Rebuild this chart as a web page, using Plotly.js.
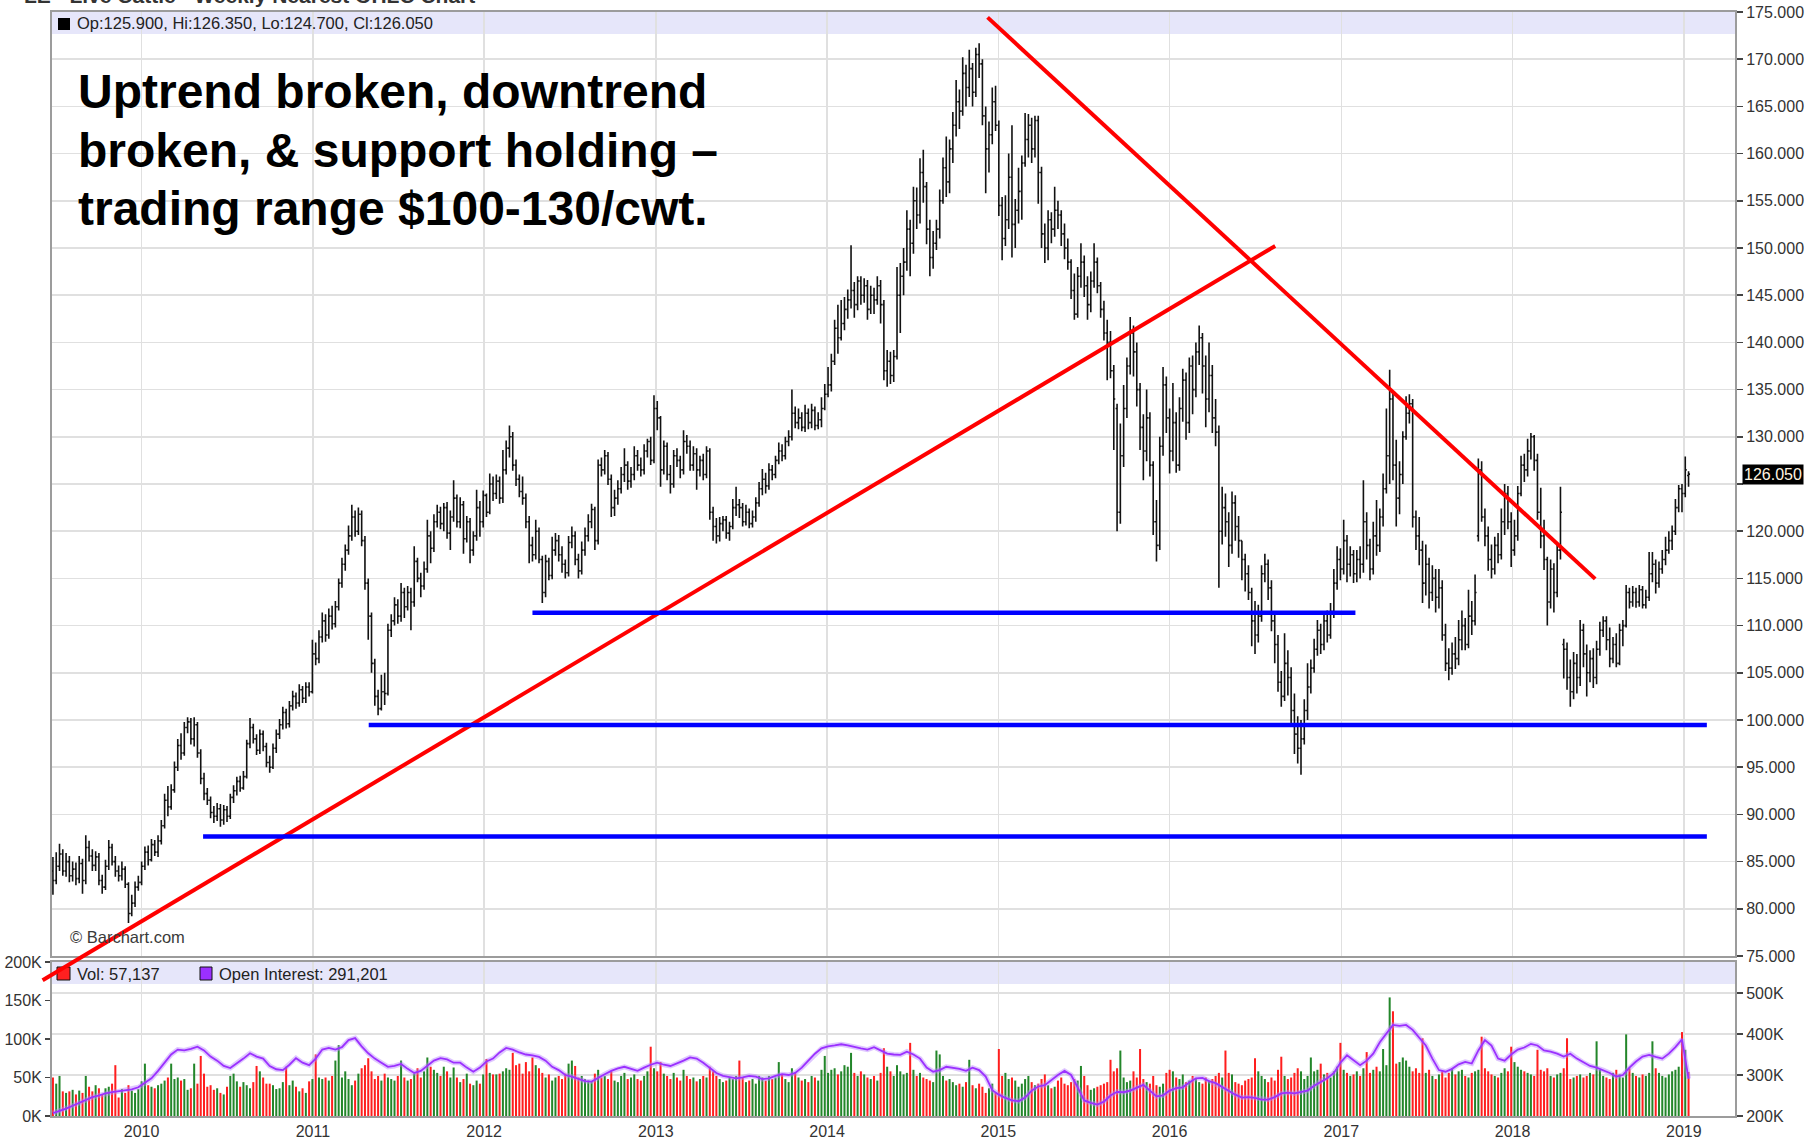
<!DOCTYPE html>
<html><head><meta charset="utf-8">
<script src="https://cdn.plot.ly/plotly-3.0.1.min.js"></script>
<style>html,body{margin:0;padding:0;background:#fff;}#chart{width:1819px;height:1144px;}</style>
</head><body><div id="chart"></div>
<script>
// ---- Weekly nearest-futures OHLC (Live Cattle), first bar week of 2009-06-26 ----
const opens=[84.0,83.0,84.5,85.8,84.0,85.0,83.5,84.2,83.2,84.8,
83.0,86.5,85.6,84.6,85.5,83.0,82.3,84.5,86.5,85.0,
84.0,83.5,84.2,82.6,79.5,80.6,82.3,
82.8,84.5,86.0,85.2,86.8,86.0,87.2,88.8,91.5,90.8,
92.6,95.0,97.3,96.5,99.2,99.8,98.0,99.5,96.5,93.8,
92.2,91.5,90.2,89.8,90.6,89.4,90.5,89.8,91.8,92.5,
93.5,92.8,94.0,97.5,99.2,98.0,96.8,98.5,97.2,95.5,
95.0,97.0,98.5,99.5,100.8,99.6,101.5,102.5,101.8,103.2,
102.3,103.5,103.0,107.0,106.5,108.8,110.5,109.0,111.0,110.2,
112.0,114.5,116.5,118.0,119.5,121.5,120.0,121.8,119.0,114.5,
111.0,106.0,102.5,101.2,103.0,102.8,109.5,110.5,112.2,111.0,
113.5,112.0,113.5,112.5,116.8,115.0,114.2,116.0,119.5,118.2,
121.0,122.0,120.8,122.5,119.8,121.5,123.5,121.0,122.8,119.2,
121.0,118.0,119.5,122.5,121.0,123.8,122.0,125.0,124.0,125.3,
123.5,126.5,128.8,130.0,127.0,125.5,124.2,123.5,121.0,118.5,
117.5,120.0,117.0,113.5,116.8,115.3,118.0,119.0,117.5,116.5,
115.6,118.8,119.5,117.0,115.8,118.0,119.5,121.0,122.3,119.0,
127.0,126.5,128.0,125.5,122.5,123.5,124.5,126.0,127.0,125.3,
126.0,128.0,127.0,126.5,128.5,129.5,127.5,133.0,132.0,126.5,
129.0,126.0,125.0,128.0,127.5,126.5,129.5,129.0,127.0,128.2,
126.5,127.5,126.0,128.5,122.0,120.5,119.5,120.8,121.2,119.8,
120.5,122.5,122.8,122.5,121.0,122.0,120.8,121.5,123.0,124.5,
125.5,124.8,126.5,126.0,127.5,128.5,128.0,129.5,130.0,132.5,
131.5,132.0,131.0,132.5,131.5,132.8,131.2,131.8,133.0,134.5,
135.5,138.0,141.5,140.5,142.0,143.5,144.5,145.5,144.0,146.5,
145.0,146.0,143.5,145.0,144.5,146.0,144.0,137.0,138.0,136.5,
138.5,145.0,147.0,148.5,152.0,150.5,155.0,153.5,158.0,156.5,
152.0,149.0,150.5,152.0,155.0,158.5,157.0,160.5,163.0,165.5,
164.5,168.5,167.0,169.0,166.5,170.5,169.5,164.0,160.5,162.0,
165.5,163.0,154.5,151.0,153.0,157.5,152.5,154.0,156.0,159.0,
161.5,163.0,160.5,163.5,158.0,151.5,150.0,153.0,152.0,154.0,
153.5,151.5,150.0,148.5,145.5,143.0,147.0,148.5,146.0,144.0,
146.5,148.5,146.0,143.5,141.0,140.0,137.0,133.0,122.0,128.0,
133.0,137.5,141.0,139.0,135.0,131.0,128.5,132.0,127.0,121.0,
118.5,129.0,135.5,132.0,128.5,131.5,127.0,133.0,136.0,131.5,
137.5,135.0,139.0,140.5,137.5,134.0,136.5,132.0,130.5,120.0,
122.5,121.0,118.5,123.0,120.5,119.0,117.0,115.5,113.5,110.5,
109.0,111.0,115.5,116.5,114.0,110.5,108.0,104.0,102.5,106.0,
104.5,101.0,98.5,97.0,98.0,101.0,103.5,105.5,107.5,109.5,
108.0,110.5,109.0,111.5,114.5,117.0,116.0,119.0,116.5,117.5,
115.5,117.0,116.5,121.0,118.5,116.0,119.5,118.5,121.5,124.5,
128.0,134.0,127.0,123.5,126.0,130.0,132.5,133.5,121.5,119.5,
118.0,114.5,116.5,113.5,115.0,113.0,114.0,109.0,106.0,105.5,
107.0,106.5,108.5,110.0,108.0,111.0,110.5,119.5,126.5,121.5,
119.5,117.0,116.0,118.5,117.5,121.0,124.0,121.0,118.0,119.5,
124.0,127.0,126.5,128.5,130.0,127.5,122.0,119.5,117.0,112.5,
116.0,113.5,118.0,108.0,107.5,104.5,103.0,106.0,104.5,109.5,
107.0,105.0,106.5,104.5,107.5,109.5,110.5,108.5,106.5,108.0,
106.0,109.5,110.0,113.5,112.5,113.5,112.5,113.8,112.2,113.0,
115.5,116.5,114.5,116.0,117.0,118.0,119.0,120.0,122.5,124.5,
124.0,125.9];

const highs=[85.5,86.0,86.9,86.3,85.9,85.6,85.0,84.9,85.6,85.3,
87.8,87.2,86.3,86.1,85.9,83.6,85.2,87.3,86.9,85.6,
84.6,85.0,84.5,82.8,81.5,82.9,83.5,
85.0,86.6,86.7,87.4,87.3,87.8,89.4,92.2,93.0,93.2,
95.6,98.0,98.6,99.8,100.3,100.2,100.3,99.8,96.9,94.4,
92.8,91.9,90.9,91.2,91.1,91.0,90.9,92.2,93.1,94.0,
94.1,94.6,97.9,100.2,99.6,98.5,99.0,98.9,97.6,96.2,
97.5,99.0,100.1,101.4,101.2,102.0,103.1,102.9,103.8,103.6,
104.0,104.0,108.5,108.2,109.5,111.4,111.2,111.8,112.1,112.6,
115.0,117.2,118.6,120.6,122.8,122.2,122.5,122.2,119.5,115.0,
111.4,106.5,103.2,104.8,105.0,110.2,111.2,113.0,112.8,114.5,
114.0,114.2,114.0,118.4,117.2,115.6,116.8,121.2,120.0,121.8,
122.8,122.6,123.0,123.1,122.2,125.4,123.9,123.6,123.2,121.6,
121.4,120.0,124.4,123.2,124.3,124.0,126.1,125.8,126.0,125.8,
128.6,129.6,131.2,130.5,127.6,126.0,125.8,124.0,121.6,119.4,
121.2,120.4,117.4,117.5,117.2,119.4,119.8,119.6,118.4,117.0,
119.5,120.5,120.0,117.6,118.9,120.4,121.8,122.9,122.6,127.6,
127.8,128.6,128.4,126.0,124.4,125.4,126.8,128.8,127.4,126.8,
129.0,128.6,127.8,129.2,129.8,130.0,134.4,133.8,132.2,129.6,
129.4,127.0,128.6,128.8,128.0,130.7,130.2,129.6,129.0,128.8,
128.0,128.2,129.0,128.8,122.6,121.4,121.5,121.6,121.6,121.0,
123.4,124.7,123.4,123.0,122.8,122.4,122.2,123.6,125.2,126.6,
126.2,127.2,127.0,128.0,129.4,129.2,130.0,130.7,135.0,133.2,
133.0,132.6,133.4,133.0,133.5,133.2,132.6,134.2,135.6,137.4,
138.8,142.4,144.0,144.5,144.8,145.6,150.3,146.4,147.0,147.0,
146.8,146.6,146.0,145.8,147.0,146.6,144.5,139.2,139.0,139.2,
148.0,148.4,150.0,154.0,153.0,156.5,156.4,159.5,160.4,157.0,
153.0,151.8,153.0,156.2,159.6,161.8,161.5,164.4,167.8,166.8,
170.2,169.4,171.0,169.6,171.2,171.7,170.0,165.0,163.4,167.0,
167.2,163.5,155.4,155.6,160.0,163.0,155.2,158.5,159.8,164.3,
164.2,163.8,164.0,164.0,158.6,152.6,154.0,153.8,156.5,155.0,
154.0,152.6,151.0,148.8,147.3,148.0,150.5,149.2,147.0,147.5,
150.5,149.0,146.4,144.4,142.4,141.2,137.6,133.5,131.4,135.5,
138.4,142.7,141.8,140.0,135.7,132.4,135.0,132.6,127.4,123.3,
130.0,137.4,136.4,133.0,135.7,132.6,134.2,137.2,136.8,138.4,
138.6,140.0,141.8,141.0,138.6,140.0,137.6,134.0,131.2,124.7,
124.0,122.0,124.2,123.8,121.6,119.0,117.6,116.4,114.0,112.6,
112.2,116.4,117.6,117.0,114.8,111.4,109.0,105.2,109.2,107.4,
105.6,102.8,100.4,100.0,102.2,106.0,106.4,108.6,110.6,110.2,
111.4,111.6,112.4,116.0,118.4,118.2,121.2,119.6,118.4,118.0,
118.0,118.4,125.4,122.0,119.2,121.0,123.3,122.4,126.1,133.0,
137.1,134.8,129.7,127.4,130.6,134.3,134.5,134.0,122.2,121.5,
119.0,118.6,117.2,116.4,116.0,116.0,114.8,110.2,107.6,108.2,
108.8,110.6,111.6,110.8,113.8,112.6,115.4,127.7,127.4,122.4,
120.5,118.6,119.4,119.8,122.4,125.0,124.8,122.0,121.2,124.8,
128.0,128.2,129.8,130.4,130.2,128.2,124.6,121.2,117.3,117.0,
116.6,118.6,124.7,108.6,108.2,106.4,107.2,107.0,110.6,110.2,
108.0,107.4,107.6,108.4,110.4,111.0,111.0,109.8,108.8,109.2,
110.2,110.6,114.3,114.0,114.2,114.0,114.3,114.2,113.8,117.8,
117.8,117.0,116.8,118.0,119.4,120.0,120.6,123.4,124.9,125.0,
127.9,126.35];

const lows=[81.5,82.6,84.0,83.5,83.4,82.8,82.9,82.5,82.7,81.6,
82.6,85.0,84.0,84.0,82.5,81.6,82.0,84.1,84.6,83.4,
82.9,83.0,82.2,78.5,79.2,80.2,81.9,
82.5,84.1,84.6,85.0,85.6,85.5,86.8,88.5,89.8,90.5,
92.3,94.6,95.8,96.2,98.6,97.4,97.2,96.0,93.2,91.5,
91.0,89.6,89.1,89.3,88.7,88.9,89.2,89.5,91.2,92.0,
92.4,92.6,93.8,97.0,97.5,96.3,96.4,96.7,95.0,94.4,
94.8,96.5,98.0,99.0,99.1,99.2,101.0,101.2,101.4,101.8,
101.8,102.5,102.8,105.8,106.0,108.2,108.3,108.6,109.6,109.8,
111.6,114.0,115.8,117.5,119.0,119.4,119.6,118.4,113.8,108.5,
105.0,101.5,100.5,101.0,101.6,102.6,108.8,110.0,110.2,110.4,
110.8,111.6,109.5,112.0,114.6,113.0,113.8,115.6,116.6,117.8,
120.4,120.2,120.0,119.2,118.0,121.0,120.4,120.3,117.6,118.8,
116.6,117.4,119.0,119.4,120.4,121.5,121.8,123.2,123.4,122.9,
123.0,126.0,127.8,126.4,124.8,123.6,122.8,120.3,116.6,116.8,
117.0,116.6,112.4,113.0,114.8,114.9,117.4,116.8,115.6,115.0,
115.2,118.2,116.4,115.0,115.4,117.4,118.9,120.3,118.0,118.6,
125.8,126.0,124.9,121.5,121.6,122.8,124.0,125.2,124.4,124.6,
125.4,126.4,125.8,126.0,127.8,127.0,127.2,130.7,124.7,126.0,
125.4,124.0,124.6,126.8,125.6,126.0,128.2,126.4,126.4,124.4,
125.8,125.4,125.6,121.2,119.0,118.7,118.9,120.0,119.2,119.0,
120.2,121.6,121.4,120.5,120.6,120.3,120.4,121.0,122.6,123.8,
124.0,124.4,125.4,125.6,127.1,127.4,127.6,129.0,129.6,130.9,
130.8,130.6,130.5,130.8,130.9,130.7,130.8,131.0,132.8,134.2,
134.8,137.6,138.8,140.2,141.3,142.5,143.6,142.6,143.4,144.0,
144.2,142.4,143.0,143.0,144.0,142.0,136.0,135.3,135.6,135.8,
138.2,141.0,145.0,147.6,147.0,149.4,152.0,152.6,154.8,150.4,
147.0,147.8,149.8,151.0,154.7,155.4,155.8,159.0,161.8,162.6,
164.0,165.0,166.0,165.0,166.0,168.0,163.0,155.8,158.0,161.0,
162.4,153.4,148.7,150.2,152.0,149.0,150.0,152.6,153.0,158.6,
159.6,159.0,159.6,154.7,150.0,148.4,148.7,150.5,151.2,152.0,
150.2,148.8,147.7,144.6,142.4,142.6,145.8,144.8,142.4,143.2,
145.8,145.2,142.6,140.2,136.0,136.2,128.6,120.0,120.8,126.8,
132.0,136.6,136.4,133.2,128.6,125.4,127.4,125.8,119.6,116.8,
118.0,128.0,130.4,126.1,127.4,126.2,126.4,131.6,129.7,130.4,
132.4,134.2,137.6,134.6,131.0,132.6,130.4,129.0,114.0,118.6,
119.4,116.2,117.6,119.0,117.2,114.8,113.6,112.7,107.8,107.0,
108.2,110.4,114.6,112.7,109.4,106.0,103.0,101.4,102.0,102.6,
99.6,96.4,95.4,94.2,97.4,100.0,102.8,105.0,106.8,107.0,
107.4,108.2,108.6,110.8,113.8,114.8,115.4,114.6,115.2,114.5,
114.6,115.0,115.6,117.0,114.8,115.4,117.4,117.8,120.5,124.0,
125.0,125.4,120.5,121.8,125.0,129.7,131.4,120.4,118.0,116.4,
112.4,113.2,111.8,112.6,111.4,111.8,108.4,105.2,104.2,104.8,
105.4,105.8,107.4,107.4,107.6,109.0,110.0,118.9,121.0,118.4,
115.8,115.0,115.4,116.6,117.0,119.6,120.2,116.2,117.4,119.0,
123.7,125.2,125.8,127.6,126.4,121.2,118.2,115.9,110.0,111.8,
111.4,113.0,117.0,104.4,103.2,101.4,102.2,102.8,103.6,105.6,
102.5,104.0,103.4,103.8,106.8,108.8,107.4,105.6,106.0,105.6,
105.8,107.8,109.8,111.8,112.0,111.9,112.0,111.8,111.8,112.6,
114.6,113.4,114.0,115.5,116.4,117.6,118.0,119.6,122.0,122.0,
123.6,124.7];

const closes=[83.0,84.5,85.8,84.0,85.0,83.5,84.2,83.2,84.8,83.0,
86.5,85.6,84.6,85.5,83.0,82.3,84.5,86.5,85.0,84.0,
83.5,84.2,82.6,79.5,80.6,82.3,82.8,
84.5,86.0,85.2,86.8,86.0,87.2,88.8,91.5,90.8,92.6,
95.0,97.3,96.5,99.2,99.8,98.0,99.5,96.5,93.8,92.2,
91.5,90.2,89.8,90.6,89.4,90.5,89.8,91.8,92.5,93.5,
92.8,94.0,97.5,99.2,98.0,96.8,98.5,97.2,95.5,95.0,
97.0,98.5,99.5,100.8,99.6,101.5,102.5,101.8,103.2,102.3,
103.5,103.0,107.0,106.5,108.8,110.5,109.0,111.0,110.2,112.0,
114.5,116.5,118.0,119.5,121.5,120.0,121.8,119.0,114.5,111.0,
106.0,102.5,101.2,103.0,102.8,109.5,110.5,112.2,111.0,113.5,
112.0,113.5,112.5,116.8,115.0,114.2,116.0,119.5,118.2,121.0,
122.0,120.8,122.5,119.8,121.5,123.5,121.0,122.8,119.2,121.0,
118.0,119.5,122.5,121.0,123.8,122.0,125.0,124.0,125.3,123.5,
126.5,128.8,130.0,127.0,125.5,124.2,123.5,121.0,118.5,117.5,
120.0,117.0,113.5,116.8,115.3,118.0,119.0,117.5,116.5,115.6,
118.8,119.5,117.0,115.8,118.0,119.5,121.0,122.3,119.0,127.0,
126.5,128.0,125.5,122.5,123.5,124.5,126.0,127.0,125.3,126.0,
128.0,127.0,126.5,128.5,129.5,127.5,133.0,132.0,126.5,129.0,
126.0,125.0,128.0,127.5,126.5,129.5,129.0,127.0,128.2,126.5,
127.5,126.0,128.5,122.0,120.5,119.5,120.8,121.2,119.8,120.5,
122.5,122.8,122.5,121.0,122.0,120.8,121.5,123.0,124.5,125.5,
124.8,126.5,126.0,127.5,128.5,128.0,129.5,130.0,132.5,131.5,
132.0,131.0,132.5,131.5,132.8,131.2,131.8,133.0,134.5,135.5,
138.0,141.5,140.5,142.0,143.5,144.5,145.5,144.0,146.5,145.0,
146.0,143.5,145.0,144.5,146.0,144.0,137.0,138.0,136.5,138.5,
145.0,147.0,148.5,152.0,150.5,155.0,153.5,158.0,156.5,152.0,
149.0,150.5,152.0,155.0,158.5,157.0,160.5,163.0,165.5,164.5,
168.5,167.0,169.0,166.5,170.5,169.5,164.0,160.5,162.0,165.5,
163.0,154.5,151.0,153.0,157.5,152.5,154.0,156.0,159.0,161.5,
163.0,160.5,163.5,158.0,151.5,150.0,153.0,152.0,154.0,153.5,
151.5,150.0,148.5,145.5,143.0,147.0,148.5,146.0,144.0,146.5,
148.5,146.0,143.5,141.0,140.0,137.0,134.0,122.0,128.0,133.0,
137.5,141.0,139.0,135.0,131.0,128.5,132.0,127.0,121.0,118.5,
129.0,135.5,132.0,128.5,131.5,127.0,133.0,136.0,131.5,137.5,
135.0,139.0,140.5,137.5,134.0,136.5,132.0,130.5,120.0,122.5,
121.0,118.5,123.0,120.5,119.0,117.0,115.5,113.5,110.5,109.0,
111.0,115.5,116.5,114.0,110.5,108.0,104.0,102.5,106.0,104.5,
101.0,98.5,97.0,98.0,101.0,103.5,105.5,107.5,109.5,108.0,
110.5,109.0,111.5,114.5,117.0,116.0,119.0,116.5,117.5,115.5,
117.0,116.5,121.0,118.5,116.0,119.5,118.5,121.5,124.5,128.0,
134.0,127.0,123.5,126.0,130.0,132.5,133.5,121.5,119.5,118.0,
114.5,116.5,113.5,115.0,113.0,114.0,109.0,106.0,105.5,107.0,
106.5,108.5,110.0,108.0,111.0,110.5,113.5,126.5,121.5,119.5,
117.0,116.0,118.5,117.5,121.0,124.0,121.0,118.0,119.5,124.0,
127.0,126.5,128.5,130.0,127.5,122.0,119.5,117.0,112.5,116.0,
113.5,118.0,122.0,107.5,104.5,103.0,106.0,104.5,109.5,107.0,
105.0,106.5,104.5,107.5,109.5,110.5,108.5,106.5,108.0,106.0,
109.5,110.0,113.5,112.5,113.5,112.5,113.8,112.2,113.0,115.5,
116.5,114.5,116.0,117.0,118.0,119.0,120.0,122.5,124.5,124.0,
126.5,126.05];

// weekly volume, thousands of contracts
const volumes=[50,42,52,32,30,32,34,28,33,30,
52,38,32,40,36,28,36,38,42,66,
24,35,30,40,33,30,35,
45,68,40,38,36,40,42,46,50,68,
48,50,46,48,34,36,68,42,78,55,
38,40,34,36,30,28,38,52,55,45,
38,44,40,36,44,65,58,50,42,42,
40,35,36,44,64,40,46,38,32,36,
30,45,48,80,50,48,50,46,52,72,
92,50,58,48,40,46,55,62,66,75,
58,48,52,46,55,50,48,46,52,72,
50,46,48,55,62,50,58,76,64,60,
56,52,64,58,50,63,50,44,48,55,
42,40,46,42,54,74,56,54,54,55,
58,62,60,82,66,68,55,70,58,76,
66,62,56,50,54,46,50,52,48,55,
68,72,65,50,52,48,46,44,55,60,
50,52,48,58,46,44,52,56,48,50,
54,48,46,52,58,90,62,58,70,55,
52,48,56,50,46,60,52,48,50,45,
48,52,50,64,58,52,48,44,46,50,
48,52,72,50,44,46,48,42,52,50,
46,52,48,50,70,54,48,44,62,56,
50,46,48,44,52,50,46,60,78,56,
60,62,54,58,66,64,82,56,52,58,
54,50,48,52,46,56,88,64,58,52,
66,58,54,56,95,60,52,56,50,48,
46,44,85,80,52,46,48,44,40,42,
38,44,73,40,36,42,38,30,36,42,
30,87,52,56,48,50,46,38,42,48,
52,44,40,42,48,54,40,36,38,46,
50,42,40,44,48,46,65,52,40,34,
36,38,40,42,44,73,58,62,85,50,
44,46,58,50,87,48,44,42,52,40,
38,42,56,60,58,50,48,54,44,46,
52,48,44,42,50,46,48,52,56,50,
85,56,54,44,42,40,46,48,50,75,
58,52,48,44,50,46,60,77,52,48,
50,56,62,58,48,52,76,58,60,68,
54,56,50,58,64,95,60,56,52,54,
58,52,62,83,56,60,64,58,87,66,
154,136,68,70,76,72,64,58,62,56,
101,56,60,52,48,54,58,50,56,62,
54,58,60,52,50,56,58,60,103,62,
58,54,52,50,56,62,58,90,70,64,
60,58,56,54,52,86,60,58,62,52,
50,54,56,62,101,48,50,52,54,50,
52,56,54,97,60,52,50,48,56,60,
54,50,106,62,56,52,50,54,52,56,
97,62,56,52,50,54,58,60,64,109,
86,57.137];

// open interest, thousands, read every second week
const openInterest=[207,212,218,225,232,240,246,250,255,258,260,263,265,270,
280,292,310,330,350,362,360,364,369,360,
345,335,322,317,328,340,353,345,340,322,
314,312,325,341,330,324,340,362,366,362,
368,385,390,370,353,340,330,320,322,327,
315,305,310,322,335,341,338,330,330,318,
308,318,333,340,355,366,362,355,350,348,
344,335,320,312,300,296,290,285,284,294,
302,310,316,320,315,310,318,325,330,325,
322,328,335,343,340,330,318,305,298,295,
292,294,298,296,290,292,298,302,300,305,
318,335,352,365,370,372,375,372,368,365,
362,368,360,352,350,349,357,350,340,318,
308,312,320,318,315,310,318,312,296,263,
252,244,238,236,245,262,272,275,288,300,
310,300,270,238,232,228,235,250,259,258,
262,270,276,262,248,250,262,268,270,282,
292,293,285,280,270,262,252,245,246,244,
240,240,246,255,257,255,258,262,274,284,
292,305,330,348,335,324,335,352,380,400,
422,420,422,410,390,372,340,312,308,315,
326,332,328,360,385,372,340,335,350,362,
367,376,372,360,357,352,345,352,340,330,
322,318,312,305,296,300,318,333,345,349,
344,340,352,368,387,291.201];

// drawn support / trend lines (date, price)
const upTrend   = [['2009-06-04',72.43],['2016-08-13',150.22]];
const downTrend = [['2014-12-09',174.43],['2018-06-26',114.95]];
const supports  = [
  {from:'2012-04-13', to:'2017-01-31', level:111.35},
  {from:'2011-04-30', to:'2019-02-19', level:99.47},
  {from:'2010-05-12', to:'2019-02-19', level:87.67}
];
const noteLines = ['Uptrend broken, downtrend','broken, & support holding \u2013','trading range $100-130/cwt.'];
const priceTicks = [75,80,85,90,95,100,105,110,115,120,125,130,135,140,145,150,155,160,165,170,175];
const volTicks = [0,50,100,150,200];
const oiTicks = [200,300,400,500];
const yearTicksStart = '2010-01-01';

// ---------- build ----------
const DAY = 86400000;
const start = Date.UTC(2009,5,26);
const dates = closes.map((_,i)=> new Date(start + i*7*DAY).toISOString().slice(0,10));
const oiDates = dates.filter((_,i)=> i%2===0);
const volColors = closes.map((c,i)=> (i===0 ? c>=opens[0] : c>=closes[i-1]) ? '#23862a' : '#ff1e1e');

const W=1819, H=1144, ML=52, MR=84, MT=12, MB=28;
const PW=W-ML-MR, PH=H-MT-MB;
const pX = x => (x-ML)/PW;
const pY = y => 1-(y-MT)/PH;
const priceDom=[pY(956),1], volDom=[0,pY(962)];
const xRange=['2009-06-24','2019-04-20'];
const xr0=Date.parse(xRange[0]), xr1=Date.parse(xRange[1]);
const dX = d => (Date.parse(d)-xr0)/(xr1-xr0);
const dY = p => priceDom[0]+(p-75)/100*(priceDom[1]-priceDom[0]);

const FONT='Liberation Sans, Arial, sans-serif';
const GRID='#e0e0e0', AXL='#9c9c9c';
const last=closes.length-1;
const lastPrice=closes[last];
const fmtK = v => Math.round(v*1000).toString().replace(/\B(?=(\d{3})+(?!\d))/g, ',');
// the last-price box replaces the tick label nearest to it
const priceText = priceTicks.map(v => Math.abs(v-lastPrice) < 2.5 ? '' : v.toFixed(3));

const traces=[
 {type:'ohlc', x:dates, open:opens, high:highs, low:lows, close:closes, xaxis:'x', yaxis:'y',
  increasing:{line:{color:'#111'}}, decreasing:{line:{color:'#111'}}, line:{width:1.6}, tickwidth:0.45, hoverinfo:'skip'},
 {type:'bar', x:dates, y:volumes, xaxis:'x2', yaxis:'y2', marker:{color:volColors, line:{width:0}}, width:4.3*DAY, hoverinfo:'skip'},
 {type:'scatter', mode:'lines', x:oiDates, y:openInterest, xaxis:'x2', yaxis:'y3', line:{color:'rgba(185,130,255,0.45)', width:5}, hoverinfo:'skip'},
 {type:'scatter', mode:'lines', x:oiDates, y:openInterest, xaxis:'x2', yaxis:'y3', line:{color:'#9b30ff', width:1.8}, hoverinfo:'skip'}
];

const axFont={family:FONT, size:16, color:'#333'};
const shapes=[
 {type:'rect', xref:'paper', yref:'paper', x0:pX(54), x1:pX(907), y0:pY(245), y1:pY(50), fillcolor:'#ffffff', line:{width:0}, layer:'between'},
 {type:'rect', xref:'paper', yref:'paper', x0:0, x1:1, y0:pY(34), y1:1, fillcolor:'#e6e6fa', line:{width:0}, layer:'between'},
 {type:'rect', xref:'paper', yref:'paper', x0:0, x1:1, y0:pY(984), y1:pY(962), fillcolor:'#e6e6fa', line:{width:0}, layer:'between'},
 {type:'rect', xref:'paper', yref:'paper', x0:pX(58), x1:pX(70), y0:pY(30), y1:pY(18), fillcolor:'#000', line:{width:0}},
 {type:'rect', xref:'paper', yref:'paper', x0:pX(57), x1:pX(70), y0:pY(980), y1:pY(967), fillcolor:'#ff2020', line:{color:'#111', width:1}},
 {type:'rect', xref:'paper', yref:'paper', x0:pX(200), x1:pX(212), y0:pY(980), y1:pY(967), fillcolor:'#9b30ff', line:{color:'#111', width:1}},
 {type:'line', xref:'paper', yref:'paper', x0:dX(upTrend[0][0]), y0:dY(upTrend[0][1]), x1:dX(upTrend[1][0]), y1:dY(upTrend[1][1]), line:{color:'#ff0000', width:4}},
 {type:'line', xref:'x', yref:'y', x0:downTrend[0][0], y0:downTrend[0][1], x1:downTrend[1][0], y1:downTrend[1][1], line:{color:'#ff0000', width:4}}
].concat(supports.map(s=>({type:'line', xref:'x', yref:'y', x0:s.from, x1:s.to, y0:s.level, y1:s.level, line:{color:'#0000ff', width:4.5}})));

const annotations=[
 {xref:'paper', yref:'paper', x:pX(22), y:pY(9), xanchor:'left', yanchor:'bottom', showarrow:false,
  text:'<b>LE - Live Cattle - Weekly Nearest OHLC Chart</b>', font:{family:FONT, size:21, color:'#333'}},
 {xref:'paper', yref:'paper', x:pX(75), y:pY(23.5), xanchor:'left', yanchor:'middle', showarrow:false,
  text:`Op:${opens[last].toFixed(3)}, Hi:${highs[last].toFixed(3)}, Lo:${lows[last].toFixed(3)}, Cl:${closes[last].toFixed(3)}`,
  font:{family:FONT, size:16.5, color:'#222'}},
 {xref:'paper', yref:'paper', x:pX(75), y:pY(973.5), xanchor:'left', yanchor:'middle', showarrow:false,
  text:`Vol: ${fmtK(volumes[last])}`, font:{family:FONT, size:16.5, color:'#222'}},
 {xref:'paper', yref:'paper', x:pX(217), y:pY(973.5), xanchor:'left', yanchor:'middle', showarrow:false,
  text:`Open Interest: ${fmtK(openInterest[openInterest.length-1])}`, font:{family:FONT, size:16.5, color:'#222'}},
 {xref:'paper', yref:'paper', x:pX(68), y:pY(937), xanchor:'left', yanchor:'middle', showarrow:false,
  text:'\u00a9 Barchart.com', font:{family:FONT, size:16.5, color:'#3a3a3a'}},
 {xref:'paper', yref:'y', x:1, y:lastPrice, xanchor:'left', yanchor:'middle', xshift:7, showarrow:false,
  text:lastPrice.toFixed(3), bgcolor:'#000', borderpad:1, font:{family:FONT, size:16, color:'#fff3e0'}}
].concat(noteLines.map((t,i)=>({xref:'paper', yref:'paper', x:pX(76), y:pY(92+58*i), xanchor:'left', yanchor:'middle', showarrow:false,
  text:'<b>'+t+'</b>', font:{family:FONT, size:48, color:'#000'}})));

const baseX={type:'date', range:xRange, tick0:yearTicksStart, dtick:'M12', showgrid:true, gridcolor:GRID, gridwidth:1.5,
  showline:true, mirror:true, linecolor:AXL, linewidth:2, ticks:'', zeroline:false, fixedrange:true};

const layout={
 width:W, height:H, margin:{l:ML, r:MR, t:MT, b:MB, pad:0}, paper_bgcolor:'#fff', plot_bgcolor:'#fff',
 showlegend:false, hovermode:false, font:{family:FONT, color:'#333'},
 xaxis:Object.assign({}, baseX, {domain:[0,1], anchor:'y', showticklabels:false, rangeslider:{visible:false}}),
 xaxis2:Object.assign({}, baseX, {domain:[0,1], anchor:'y2', showticklabels:true, tickformat:'%Y', tickfont:axFont}),
 yaxis:{domain:priceDom, anchor:'x', side:'right', range:[75,175], tickmode:'array', tickvals:priceTicks, ticktext:priceText,
  ticks:'outside', ticklen:6, tickwidth:1.5, tickcolor:'#444', tickfont:axFont, showgrid:true, gridcolor:GRID, gridwidth:1.5,
  showline:true, mirror:true, linecolor:AXL, linewidth:2, zeroline:false, fixedrange:true},
 yaxis2:{domain:volDom, anchor:'x2', side:'left', range:[0,200], tickmode:'array', tickvals:volTicks, ticktext:volTicks.map(v=>v+'K'),
  ticks:'outside', ticklen:5, tickwidth:1.5, tickcolor:'#444', tickfont:axFont, showgrid:false,
  showline:true, linecolor:AXL, linewidth:2, zeroline:false, fixedrange:true},
 yaxis3:{overlaying:'y2', anchor:'x2', side:'right', range:[200,575.6], tickmode:'array', tickvals:oiTicks, ticktext:oiTicks.map(v=>v+'K'),
  ticks:'outside', ticklen:6, tickwidth:1.5, tickcolor:'#444', tickfont:axFont, showgrid:true, gridcolor:GRID, gridwidth:1.5,
  showline:true, linecolor:AXL, linewidth:2, zeroline:false, fixedrange:true},
 shapes:shapes, annotations:annotations
};

Plotly.newPlot('chart', traces, layout, {displayModeBar:false, staticPlot:true});
</script></body></html>
